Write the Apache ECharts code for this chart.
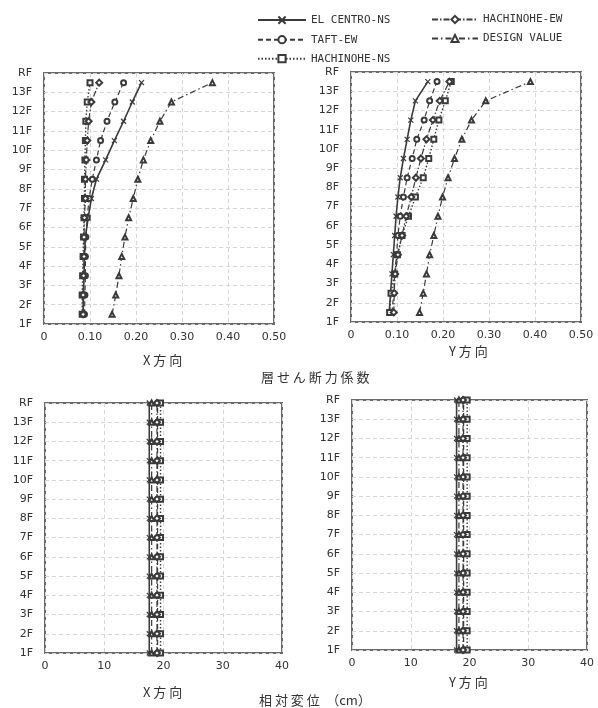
<!DOCTYPE html>
<html>
<head>
<meta charset="utf-8">
<script src="https://cdn.jsdelivr.net/npm/echarts@6/dist/echarts.min.js"></script>
<style>
  html, body { margin: 0; padding: 0; background: #fff; }
  #main { width: 598px; height: 708px; }
</style>
</head>
<body>
<div id="main"></div>
<script>
// story mid-levels (between floor lines) and floor levels
var storyLevels = [1.5, 2.5, 3.5, 4.5, 5.5, 6.5, 7.5, 8.5, 9.5, 10.5, 11.5, 12.5, 13.5];
var floorLevels = [1, 2, 3, 4, 5, 6, 7, 8, 9, 10, 11, 12, 13, 14];
var floorLabels = ['1F', '2F', '3F', '4F', '5F', '6F', '7F', '8F', '9F', '10F', '11F', '12F', '13F', 'RF'];

var seriesNames = ['EL CENTRO-NS', 'TAFT-EW', 'HACHINOHE-NS', 'HACHINOHE-EW', 'DESIGN VALUE'];

// 層せん断力係数 X方向
var shearX_elCentro = [0.085, 0.086, 0.087, 0.088, 0.090, 0.096, 0.103, 0.114, 0.134, 0.153, 0.173, 0.192, 0.212];
var shearX_taft     = [0.088, 0.089, 0.090, 0.090, 0.091, 0.094, 0.098, 0.105, 0.114, 0.123, 0.137, 0.154, 0.173];
var shearX_hachiNS  = [0.083, 0.083, 0.084, 0.085, 0.086, 0.087, 0.088, 0.088, 0.089, 0.090, 0.091, 0.094, 0.100];
var shearX_hachiEW  = [0.085, 0.085, 0.086, 0.087, 0.087, 0.088, 0.090, 0.090, 0.092, 0.094, 0.097, 0.103, 0.120];
var shearX_design   = [0.148, 0.156, 0.163, 0.169, 0.176, 0.184, 0.194, 0.204, 0.216, 0.232, 0.252, 0.277, 0.366];

// 層せん断力係数 Y方向
var shearY_elCentro = [0.083, 0.086, 0.089, 0.092, 0.095, 0.098, 0.102, 0.107, 0.114, 0.122, 0.130, 0.140, 0.167];
var shearY_taft     = [0.089, 0.093, 0.095, 0.099, 0.102, 0.107, 0.114, 0.122, 0.133, 0.143, 0.159, 0.171, 0.187];
var shearY_hachiNS  = [0.084, 0.087, 0.095, 0.101, 0.111, 0.125, 0.140, 0.157, 0.169, 0.180, 0.191, 0.205, 0.218];
var shearY_hachiEW  = [0.093, 0.094, 0.096, 0.102, 0.111, 0.120, 0.131, 0.141, 0.152, 0.164, 0.178, 0.193, 0.214];
var shearY_design   = [0.149, 0.157, 0.164, 0.171, 0.180, 0.189, 0.199, 0.211, 0.225, 0.241, 0.262, 0.293, 0.390];

// 相対変位 (cm) X方向
var dispX_elCentro = [17.6, 17.6, 17.6, 17.6, 17.6, 17.6, 17.6, 17.6, 17.6, 17.6, 17.6, 17.6, 17.6, 17.6];
var dispX_taft     = [19.0, 19.0, 19.0, 19.0, 19.0, 19.0, 19.0, 19.0, 19.0, 19.0, 19.0, 19.0, 19.0, 19.0];
var dispX_hachiNS  = [19.5, 19.5, 19.5, 19.5, 19.5, 19.5, 19.5, 19.5, 19.5, 19.5, 19.5, 19.5, 19.5, 19.5];
var dispX_hachiEW  = [18.9, 18.9, 18.9, 18.9, 18.9, 18.9, 18.9, 18.9, 18.9, 18.9, 18.9, 18.9, 18.9, 18.9];
var dispX_design   = [18.0, 18.0, 18.0, 18.0, 18.0, 18.0, 18.0, 18.0, 18.0, 18.0, 18.0, 18.0, 18.0, 18.0];

// 相対変位 (cm) Y方向
var dispY_elCentro = [17.8, 17.8, 17.8, 17.8, 17.8, 17.8, 17.8, 17.8, 17.8, 17.8, 17.8, 17.8, 17.8, 17.8];
var dispY_taft     = [19.0, 19.0, 19.0, 19.0, 19.0, 19.0, 19.0, 19.0, 19.0, 19.0, 19.0, 19.0, 19.0, 19.0];
var dispY_hachiNS  = [19.6, 19.6, 19.6, 19.6, 19.6, 19.6, 19.6, 19.6, 19.6, 19.6, 19.6, 19.6, 19.6, 19.6];
var dispY_hachiEW  = [18.9, 18.9, 18.9, 18.9, 18.9, 18.9, 18.9, 18.9, 18.9, 18.9, 18.9, 18.9, 18.9, 18.9];
var dispY_design   = [18.2, 18.2, 18.2, 18.2, 18.2, 18.2, 18.2, 18.2, 18.2, 18.2, 18.2, 18.2, 18.2, 18.2];

var shearTicks = ['0', '0.10', '0.20', '0.30', '0.40', '0.50'];

var ink = '#3a3a3a';
var crossPath = 'path://M0,0L10,10M10,0L0,10';

// line / marker style per series name
var styles = {
  'EL CENTRO-NS': { symbol: crossPath, dash: 'solid', width: 1.6 },
  'TAFT-EW':      { symbol: 'emptyCircle', dash: [5, 3], width: 1.2 },
  'HACHINOHE-NS': { symbol: 'emptyRect', dash: [1.5, 2], width: 1.4 },
  'HACHINOHE-EW': { symbol: 'emptyDiamond', dash: [6, 2, 1.5, 2], width: 1.2 },
  'DESIGN VALUE': { symbol: 'emptyTriangle', dash: [6, 3, 1.5, 3], width: 1.2 }
};

function pairs(xs, ys) {
  return xs.map(function (v, i) { return [v, ys[i]]; });
}

function makeSeries(name, gridIdx, xs, ys, symSize) {
  var s = styles[name];
  var isCross = s.symbol === crossPath;
  return {
    name: name,
    type: 'line',
    xAxisIndex: gridIdx,
    yAxisIndex: gridIdx,
    data: pairs(xs, ys),
    symbol: s.symbol,
    symbolSize: symSize,
    showAllSymbol: true,
    animation: false,
    lineStyle: { color: ink, width: s.width, type: s.dash },
    itemStyle: isCross
      ? { color: 'none', borderColor: ink, borderWidth: 1.2 }
      : { color: ink, borderColor: ink, borderWidth: 1.3 }
  };
}

var grids = [
  { left: 44, top: 73, width: 230, height: 251 },
  { left: 351, top: 72, width: 230, height: 250 },
  { left: 45, top: 403, width: 237, height: 250 },
  { left: 352, top: 400, width: 235, height: 250 }
];

var labelFont = { fontFamily: 'DejaVu Sans', fontSize: 11, color: '#333' };

function xAxisFor(i) {
  var shear = i < 2;
  return {
    type: 'value',
    gridIndex: i,
    min: 0,
    max: shear ? 0.5 : 40,
    interval: shear ? 0.1 : 10,
    axisLine: { show: false },
    axisTick: { show: false },
    axisLabel: Object.assign({
      margin: 8,
      formatter: function (v) {
        if (shear) { return shearTicks[Math.round(v * 10)]; }
        return String(v);
      }
    }, labelFont),
    splitLine: { show: true, lineStyle: { color: '#d6d6d6', type: [4, 3], width: 1 } }
  };
}

function yAxisFor(i) {
  return {
    type: 'value',
    gridIndex: i,
    min: 1,
    max: 14,
    interval: 1,
    axisLine: { show: false },
    axisTick: { show: false },
    axisLabel: Object.assign({
      margin: 12,
      formatter: function (v) { return floorLabels[v - 1]; }
    }, labelFont),
    splitLine: { show: true, lineStyle: { color: '#d6d6d6', type: [4, 3], width: 1 } }
  };
}

var series = [];
// top-left
series.push(makeSeries('EL CENTRO-NS', 0, shearX_elCentro, storyLevels, 5));
series.push(makeSeries('TAFT-EW', 0, shearX_taft, storyLevels, 5));
series.push(makeSeries('HACHINOHE-NS', 0, shearX_hachiNS, storyLevels, 5));
series.push(makeSeries('HACHINOHE-EW', 0, shearX_hachiEW, storyLevels, 6));
series.push(makeSeries('DESIGN VALUE', 0, shearX_design, storyLevels, 5));
// top-right
series.push(makeSeries('EL CENTRO-NS', 1, shearY_elCentro, storyLevels, 5));
series.push(makeSeries('TAFT-EW', 1, shearY_taft, storyLevels, 5));
series.push(makeSeries('HACHINOHE-NS', 1, shearY_hachiNS, storyLevels, 5));
series.push(makeSeries('HACHINOHE-EW', 1, shearY_hachiEW, storyLevels, 6));
series.push(makeSeries('DESIGN VALUE', 1, shearY_design, storyLevels, 5));
// bottom-left
series.push(makeSeries('EL CENTRO-NS', 2, dispX_elCentro, floorLevels, 5));
series.push(makeSeries('TAFT-EW', 2, dispX_taft, floorLevels, 5));
series.push(makeSeries('HACHINOHE-NS', 2, dispX_hachiNS, floorLevels, 5));
series.push(makeSeries('HACHINOHE-EW', 2, dispX_hachiEW, floorLevels, 6));
series.push(makeSeries('DESIGN VALUE', 2, dispX_design, floorLevels, 5));
// bottom-right
series.push(makeSeries('EL CENTRO-NS', 3, dispY_elCentro, floorLevels, 5));
series.push(makeSeries('TAFT-EW', 3, dispY_taft, floorLevels, 5));
series.push(makeSeries('HACHINOHE-NS', 3, dispY_hachiNS, floorLevels, 5));
series.push(makeSeries('HACHINOHE-EW', 3, dispY_hachiEW, floorLevels, 6));
series.push(makeSeries('DESIGN VALUE', 3, dispY_design, floorLevels, 5));

var titleStyle = { fontFamily: 'Noto Sans CJK JP', fontSize: 13, fontWeight: 'normal', color: '#333' };
var legendText = { fontFamily: 'DejaVu Sans Mono', fontSize: 11, color: '#333' };

var myChart = echarts.init(document.getElementById('main'), null, { renderer: 'canvas' });
var option = {
  backgroundColor: '#fff',
  animation: false,
  title: [
    { text: 'X 方 向', left: 138, top: 349, textStyle: titleStyle },
    { text: 'Y 方 向', left: 444, top: 340, textStyle: titleStyle },
    { text: '層 せ ん 断 力 係 数', left: 256, top: 366, textStyle: titleStyle },
    { text: 'X 方 向', left: 138, top: 681, textStyle: titleStyle },
    { text: 'Y 方 向', left: 444, top: 671, textStyle: titleStyle },
    { text: '相 対 変 位　（cm）', left: 254, top: 689, textStyle: titleStyle }
  ],
  legend: [
    {
      data: ['EL CENTRO-NS', 'TAFT-EW', 'HACHINOHE-NS'],
      orient: 'vertical', left: 252, top: 9,
      itemWidth: 48, itemHeight: 9, itemGap: 8,
      textStyle: legendText, selectedMode: false
    },
    {
      data: ['HACHINOHE-EW', 'DESIGN VALUE'],
      orient: 'vertical', left: 426, top: 9,
      itemWidth: 46, itemHeight: 9, itemGap: 8,
      textStyle: legendText, selectedMode: false
    }
  ],
  grid: grids.map(function (g) {
    return Object.assign({ show: true, borderColor: '#6a6a6a', borderWidth: 2, backgroundColor: 'transparent' }, g);
  }),
  xAxis: [0, 1, 2, 3].map(xAxisFor),
  yAxis: [0, 1, 2, 3].map(yAxisFor),
  series: series
};
myChart.setOption(option);
</script>
</body>
</html>
